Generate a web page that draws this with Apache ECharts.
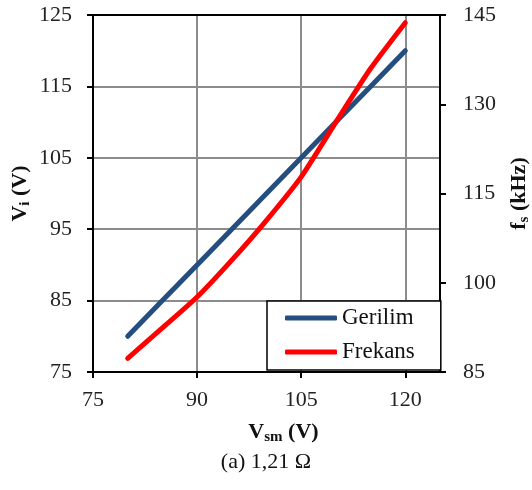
<!DOCTYPE html>
<html>
<head>
<meta charset="utf-8">
<script src="https://cdn.jsdelivr.net/npm/echarts@6/dist/echarts.min.js"></script>
<style>
  html, body { margin: 0; padding: 0; background: #fff; }
  #chart { width: 532px; height: 490px; }
</style>
</head>
<body>
<div id="chart"></div>
<script>
// Supply voltage (V_sm) sweep points
const vsm = [80, 85, 90, 95, 100, 105, 110, 115, 120];
// Input voltage V_i (V), left axis
const gerilim = [80, 85, 90, 95, 100, 105, 110, 115, 120];
// Switching frequency f_s (kHz), right axis
const frekans = [87.3, 92.4, 97.6, 103.8, 110.5, 117.8, 127.0, 136.0, 143.7];

const seriesNames = ['Gerilim', 'Frekans'];
const caption = '(a) 1,21 Ω';

const FONT = "'Liberation Serif', 'Times New Roman', serif";
const BLACK = '#000';
const GRID = '#8c8c8c';

const titleRich = {
  m: { fontFamily: FONT, fontWeight: 'bold', fontSize: 22, lineHeight: 24, verticalAlign: 'top', color: '#111' },
  s: { fontFamily: FONT, fontWeight: 'bold', fontSize: 15, lineHeight: 12, verticalAlign: 'bottom', color: '#111' }
};

const labelStyle = { fontFamily: FONT, fontSize: 22, color: '#222' };

const chart = echarts.init(document.getElementById('chart'), null, { renderer: 'canvas' });

chart.setOption({
  animation: false,
  backgroundColor: '#fff',
  title: {
    text: caption,
    left: 'center',
    top: 446,
    textStyle: { fontFamily: FONT, fontSize: 22, fontWeight: 'normal', color: '#111' }
  },
  grid: { left: 93, top: 15, right: 92, bottom: 118, containLabel: false, outerBoundsMode: 'none' },
  legend: {
    data: seriesNames,
    orient: 'vertical',
    left: 267,
    top: 301,
    padding: [4, 26, 5, 18],
    itemGap: 8,
    itemWidth: 52,
    itemHeight: 5,
    icon: 'roundRect',
    backgroundColor: '#fff',
    borderColor: BLACK,
    borderWidth: 1.5,
    borderRadius: 0,
    textStyle: { fontFamily: FONT, fontSize: 23, lineHeight: 26, color: '#111' }
  },
  xAxis: [{
    type: 'value',
    min: 75, max: 125, interval: 15,
    name: '{m|V}{s|sm}{m| (V)}',
    nameLocation: 'middle',
    nameGap: 49,
    nameMoveOverlap: false,
    nameTextStyle: { rich: titleRich, padding: [0, 0, 0, 34] },
    axisLine: { show: true, onZero: false, lineStyle: { color: BLACK, width: 2 } },
    axisTick: { show: true, inside: false, length: 6, lineStyle: { color: BLACK, width: 2 } },
    axisLabel: Object.assign({ margin: 17, showMaxLabel: false }, labelStyle),
    splitLine: { show: true, lineStyle: { color: GRID, width: 2 } }
  }, {
    type: 'value',
    position: 'top',
    min: 75, max: 125,
    axisLine: { show: true, onZero: false, lineStyle: { color: BLACK, width: 2 } },
    axisTick: { show: false },
    axisLabel: { show: false },
    splitLine: { show: false }
  }],
  yAxis: [{
    type: 'value',
    position: 'left',
    min: 75, max: 125, interval: 10,
    name: '{m|V}{s|i}{m| (V)}',
    nameLocation: 'middle',
    nameRotate: 90,
    nameGap: 60,
    nameMoveOverlap: false,
    nameTextStyle: { rich: titleRich },
    axisLine: { show: true, onZero: false, lineStyle: { color: BLACK, width: 2 } },
    axisTick: { show: true, inside: false, length: 6, lineStyle: { color: BLACK, width: 2 } },
    axisLabel: Object.assign({ margin: 21 }, labelStyle),
    splitLine: { show: true, lineStyle: { color: GRID, width: 2 } }
  }, {
    type: 'value',
    position: 'right',
    min: 85, max: 145, interval: 15,
    name: '{m|f}{s|s}{m| (kHz)}',
    nameLocation: 'middle',
    nameRotate: 90,
    nameGap: 68,
    nameMoveOverlap: false,
    nameTextStyle: { rich: titleRich },
    axisLine: { show: true, onZero: false, lineStyle: { color: BLACK, width: 2 } },
    axisTick: { show: true, inside: false, length: 6, lineStyle: { color: BLACK, width: 2 } },
    axisLabel: Object.assign({ margin: 23 }, labelStyle),
    splitLine: { show: false }
  }],
  series: [{
    name: seriesNames[0],
    type: 'line',
    xAxisIndex: 0,
    yAxisIndex: 0,
    data: vsm.map((x, i) => [x, gerilim[i]]),
    showSymbol: false,
    symbol: 'none',
    color: '#254E80',
    lineStyle: { color: '#254E80', width: 5, cap: 'round', join: 'round' },
    z: 3
  }, {
    name: seriesNames[1],
    type: 'line',
    xAxisIndex: 0,
    yAxisIndex: 1,
    data: vsm.map((x, i) => [x, frekans[i]]),
    showSymbol: false,
    symbol: 'none',
    smooth: 0.2,
    color: '#ff0000',
    lineStyle: { color: '#ff0000', width: 5, cap: 'round', join: 'round' },
    z: 4
  }]
});
</script>
</body>
</html>
